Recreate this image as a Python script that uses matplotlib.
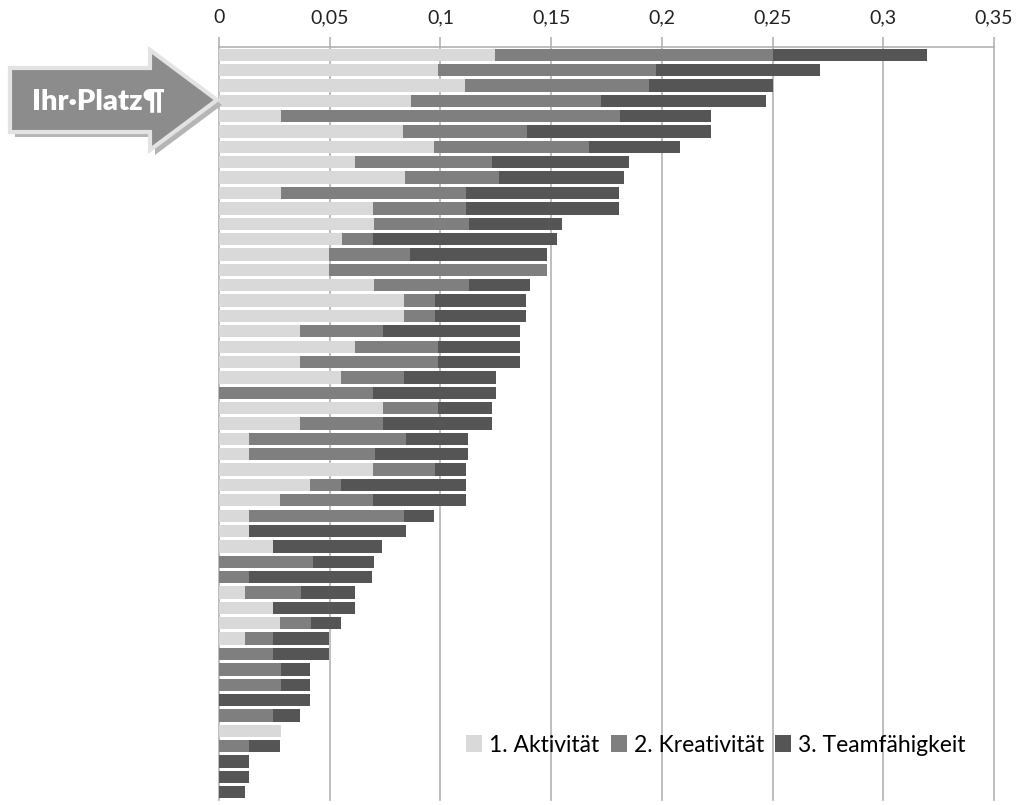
import numpy as np
import matplotlib.pyplot as plt
from matplotlib.patches import Polygon, Patch

plt.rcParams['font.family'] = ['Lato', 'DejaVu Sans']

# Anteile je Person (von oben nach unten), gestapelt
aktivitaet = [0.1248, 0.0987, 0.1113, 0.0865, 0.0278, 0.0833, 0.0972, 0.0615, 0.0842, 0.0280,
              0.0695, 0.0702, 0.0554, 0.0496, 0.0496, 0.0702, 0.0834, 0.0834, 0.0367, 0.0616,
              0.0367, 0.0553, 0.0, 0.0739, 0.0367, 0.0136, 0.0136, 0.0694, 0.0412, 0.0277,
              0.0136, 0.0136, 0.0246, 0.0, 0.0, 0.0118, 0.0246, 0.0277, 0.0118, 0.0,
              0.0, 0.0, 0.0, 0.0, 0.0280, 0.0, 0.0, 0.0, 0.0]
kreativitaet = [0.1254, 0.0987, 0.0830, 0.0861, 0.1531, 0.0556, 0.0698, 0.0620, 0.0424, 0.0835,
                0.0420, 0.0425, 0.0141, 0.0368, 0.0986, 0.0425, 0.0140, 0.0140, 0.0372, 0.0372,
                0.0621, 0.0281, 0.0694, 0.0249, 0.0372, 0.0708, 0.0567, 0.0281, 0.0141, 0.0417,
                0.0699, 0.0, 0.0, 0.0423, 0.0136, 0.0251, 0.0, 0.0137, 0.0128, 0.0246,
                0.0279, 0.0279, 0.0, 0.0246, 0.0, 0.0136, 0.0, 0.0, 0.0]
teamfaehigkeit = [0.0694, 0.0739, 0.0557, 0.0744, 0.0413, 0.0833, 0.0410, 0.0617, 0.0562, 0.0691,
                  0.0691, 0.0422, 0.0832, 0.0618, 0.0, 0.0278, 0.0414, 0.0414, 0.0619, 0.0370,
                  0.0370, 0.0415, 0.0555, 0.0247, 0.0496, 0.0282, 0.0423, 0.0139, 0.0561, 0.0420,
                  0.0138, 0.0707, 0.0492, 0.0279, 0.0557, 0.0247, 0.0370, 0.0138, 0.0249, 0.0249,
                  0.0132, 0.0132, 0.0411, 0.0120, 0.0, 0.0140, 0.0136, 0.0136, 0.0118]

labels = ['1. Aktivität', '2. Kreativität', '3. Teamfähigkeit']
farben = ['#d9d9d9', '#7f7f7f', '#555555']
ticks = [0, 0.05, 0.1, 0.15, 0.2, 0.25, 0.3, 0.35]

W, H = 1020, 805
fig = plt.figure(figsize=(W / 100, H / 100), dpi=100)
ax = fig.add_axes([219 / W, 1 - 800 / H, (994 - 219) / W, (800 - 47) / H])

y = np.arange(len(aktivitaet))
a = np.array(aktivitaet)
k = np.array(kreativitaet)
t = np.array(teamfaehigkeit)

ax.barh(y, a, height=0.8, color=farben[0], zorder=3)
ax.barh(y, k, left=a, height=0.8, color=farben[1], zorder=3)
ax.barh(y, t, left=a + k, height=0.8, color=farben[2], zorder=3)

ax.set_xlim(0, 0.35)
ax.set_ylim(len(y) - 0.5, -0.5)

# Gitterlinien
for v in ticks:
    ax.axvline(v, color='#b3b3b3', lw=1.2, zorder=1, clip_on=False)

ax.xaxis.tick_top()
ax.set_xticks(ticks)
ax.set_xticklabels([('%g' % v).replace('.', ',') for v in ticks], fontsize=14, color='#222222')
ax.tick_params(axis='x', direction='out', length=7, width=1.2, color='#b3b3b3', pad=8)
ax.set_yticks([])
for s in ['right', 'bottom', 'left']:
    ax.spines[s].set_visible(False)
ax.spines['top'].set_color('#b3b3b3')
ax.spines['top'].set_linewidth(1.2)

handles = [Patch(facecolor=c) for c in farben]
ax.legend(handles, labels, ncol=3, frameon=False, fontsize=16.5,
          loc='center right', bbox_to_anchor=(975 / W, 1 - 745 / H),
          bbox_transform=fig.transFigure, handlelength=0.7, handleheight=0.7,
          handletextpad=0.3, columnspacing=0.5, borderaxespad=0)

# Pfeil "Ihr Platz"
def px(pts):
    return [(x / W, 1 - yy / H) for x, yy in pts]

pfeil = [(10, 68), (150, 68), (150, 50), (217, 100), (150, 150), (150, 132), (10, 132)]
schatten = [(x + 5, yy + 5) for x, yy in pfeil]
fig.patches.append(Polygon(px(schatten), closed=True, transform=fig.transFigure,
                           facecolor='#b5b5b5', edgecolor='none', zorder=1))
fig.patches.append(Polygon(px(pfeil), closed=True, transform=fig.transFigure,
                           facecolor='#8c8c8c', edgecolor='#e3e3e3', lw=3, zorder=2))
fig.text(98 / W, 1 - 101 / H, 'Ihr·Platz¶', color='white', fontsize=21, fontweight='heavy',
         ha='center', va='center', zorder=3)

fig.savefig('out.png', dpi=100)
